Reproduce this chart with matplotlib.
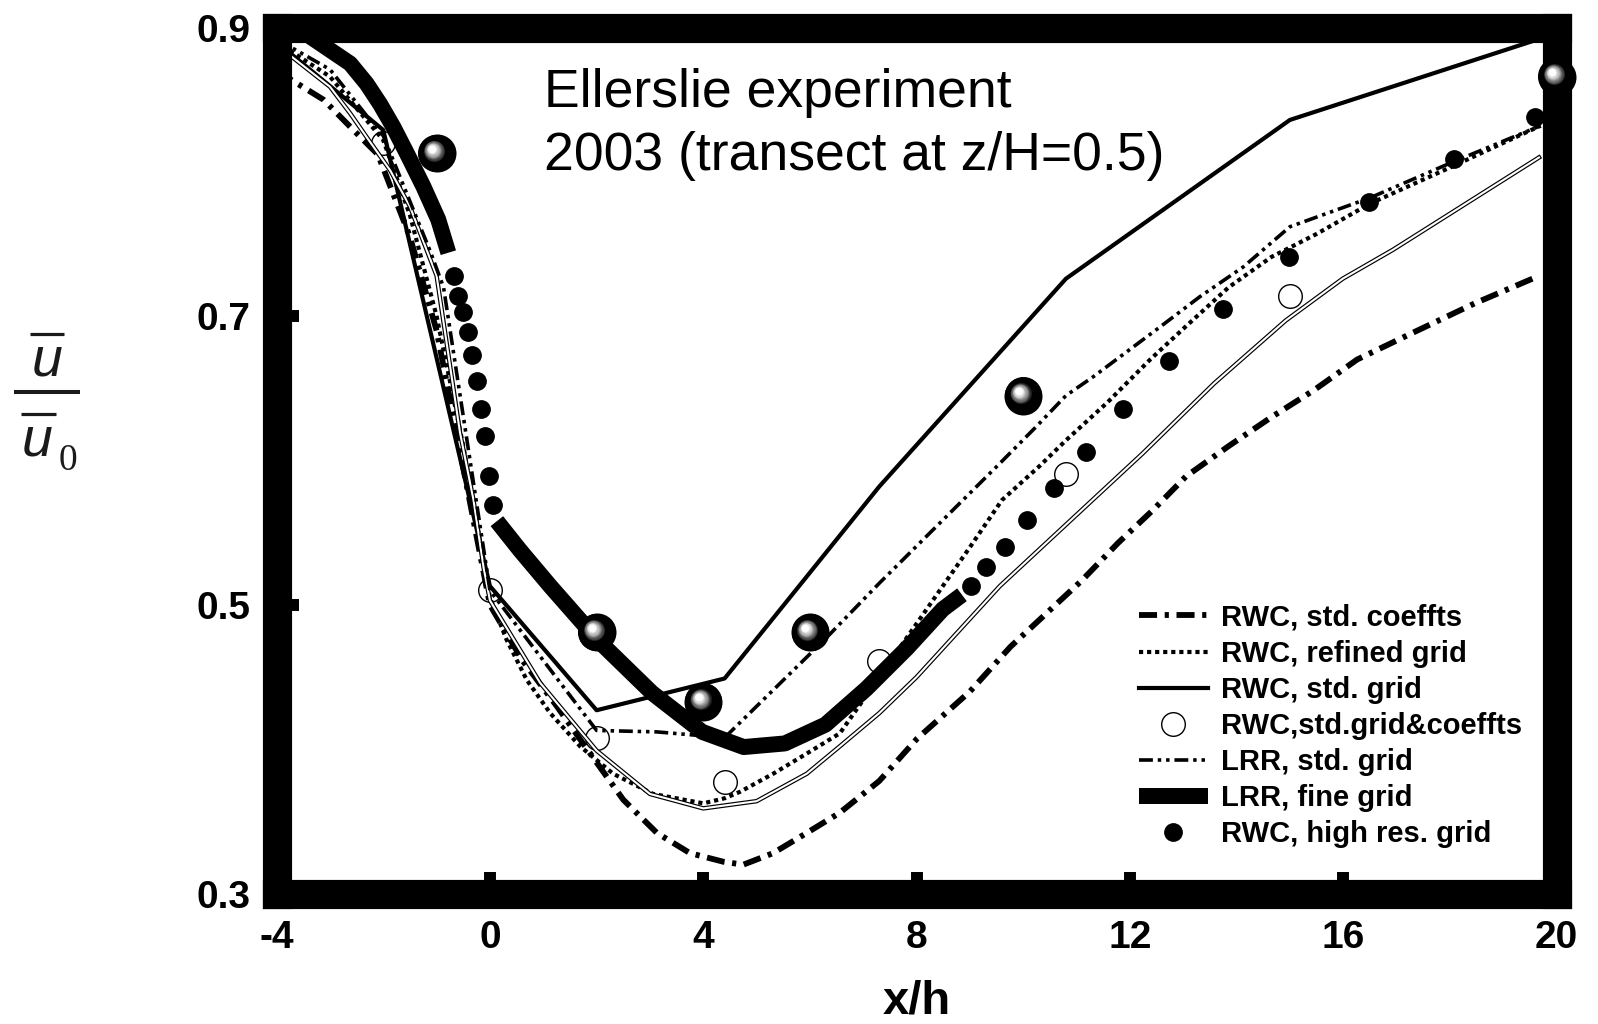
import matplotlib
matplotlib.use('Agg')
import matplotlib.pyplot as plt
import numpy as np
from matplotlib.lines import Line2D
from matplotlib.transforms import offset_copy

# ---- data ----
# RWC, std. coeffts (thick dash-dot)
std_coeffts_x = [-4.0, -3.12, -2.56, -2.1, -1.5, -1.0, -0.5, 0.0, 0.6, 1.25, 1.88, 2.5,
                 3.13, 3.75, 4.38, 4.75, 5.31, 5.94, 6.56, 7.3, 8.0, 9.0, 9.76, 10.43,
                 11.1, 11.78, 12.44, 13.05, 13.85, 14.65, 15.46, 16.26, 17.33, 18.47, 19.61]
std_coeffts_y = [0.870, 0.850, 0.829, 0.812, 0.755, 0.690, 0.595, 0.500, 0.462, 0.430, 0.397, 0.365,
                 0.342, 0.328, 0.322, 0.320, 0.328, 0.342, 0.356, 0.378, 0.407, 0.440, 0.471, 0.494,
                 0.517, 0.543, 0.566, 0.589, 0.610, 0.630, 0.649, 0.670, 0.689, 0.709, 0.727]

# RWC, refined grid (dotted)
refined_x = [-4.0, -3.0, -2.0, -1.5, -1.0, -0.5, 0.0, 0.31, 0.69, 1.13, 1.69, 2.31, 3.06, 4.0,
             4.4, 4.69, 5.31, 5.94, 6.56, 7.3, 8.0, 9.0, 9.6, 10.3, 10.8, 11.57, 12.38, 13.05,
             13.85, 14.65, 15.5, 16.5, 18.0, 19.7]
refined_y = [0.890, 0.866, 0.822, 0.770, 0.700, 0.610, 0.505, 0.476, 0.448, 0.425, 0.402, 0.383,
             0.369, 0.3625, 0.366, 0.3705, 0.383, 0.397, 0.411, 0.450, 0.487, 0.540, 0.5726, 0.596,
             0.614, 0.640, 0.670, 0.693, 0.720, 0.741, 0.757, 0.778, 0.803, 0.832]

# RWC, std. grid (solid)
std_grid_x = [-4.0, -2.0, 0.0, 2.0, 4.4, 7.3, 10.8, 15.0, 20.0]
std_grid_y = [0.890, 0.829, 0.513, 0.427, 0.449, 0.582, 0.726, 0.836, 0.896]

# RWC, std.grid & coeffts (open circles)
circles_x = [-2.0, 0.0, 2.0, 4.4, 7.3, 10.8, 15.0]
circles_y = [0.820, 0.510, 0.408, 0.377, 0.461, 0.591, 0.714]

# unlabelled double thin line
double_x = [-4.0, -3.0, -2.62, -2.31, -1.87, -1.5, -1.0, -0.56, -0.31, -0.12, 0.0, 0.94, 2.0,
            3.0, 4.0, 5.0, 5.94, 6.56, 7.3, 8.0, 9.56, 10.9, 12.24, 13.58, 14.92, 15.99,
            16.93, 19.67]
double_y = [0.888, 0.859, 0.8405, 0.824, 0.801, 0.776, 0.728, 0.619, 0.573, 0.526, 0.503, 0.446,
            0.399, 0.369, 0.359, 0.364, 0.383, 0.402, 0.425, 0.450, 0.513, 0.559, 0.605, 0.6535,
            0.697, 0.726, 0.746, 0.810]

# LRR, std. grid (dash-dot-dot)
lrr_std_x = [-4.0, -3.0, -2.25, -2.0, -1.56, -1.12, -0.87, 0.0, 2.0, 3.13, 4.4, 6.25, 7.3,
             9.56, 10.23, 10.8, 11.31, 12.58, 13.31, 14.12, 15.0, 16.5, 18.0, 19.7]
lrr_std_y = [0.892, 0.871, 0.836, 0.825, 0.785, 0.745, 0.720, 0.510, 0.413, 0.412, 0.408, 0.475,
             0.515, 0.598, 0.623, 0.645, 0.658, 0.693, 0.7135, 0.734, 0.762, 0.782, 0.806, 0.832]

# LRR, fine grid (very thick line, broken where the dots separate)
lrr_fine_x = [-3.7, -3.06, -2.62, -2.31, -2.06, -1.81, -1.56, -1.25, -0.97, -0.78, np.nan,
              0.13, 0.56, 1.13, 2.01, 3.04, 3.98, 4.76, 5.53, 6.29, 7.06, 7.82, 8.49, 8.85]
lrr_fine_y = [0.902, 0.886, 0.875, 0.861, 0.847, 0.831, 0.813, 0.790, 0.767, 0.744, np.nan,
              0.558, 0.538, 0.513, 0.476, 0.439, 0.412, 0.4015, 0.404, 0.417, 0.442, 0.470,
              0.497, 0.507]

# RWC, high res. grid (filled dots)
hires_x = [-0.68, -0.59, -0.50, -0.41, -0.34, -0.25, -0.17, -0.09, -0.01, 0.06,
           9.02, 9.31, 9.666, 10.07, 10.57, 11.17, 11.87, 12.73, 13.75, 14.98, 16.48, 18.07, 19.6]
hires_y = [0.728, 0.714, 0.703, 0.689, 0.673, 0.655, 0.636, 0.617, 0.589, 0.569,
           0.513, 0.526, 0.540, 0.559, 0.581, 0.606, 0.6355, 0.669, 0.705, 0.741, 0.779, 0.809, 0.838]

# Ellerslie experiment (shaded spheres)
exp_x = [-1.0, 2.0, 4.0, 6.0, 10.0, 20.0]
exp_y = [0.813, 0.481, 0.433, 0.481, 0.645, 0.866]

x_ticks = [-4, 0, 4, 8, 12, 16, 20]
y_ticks = [0.3, 0.5, 0.7, 0.9]
y_tick_labels = ['0.3', '0.5', '0.7', '0.9']

plt.rcParams['font.family'] = ['Liberation Sans', 'DejaVu Sans']
plt.rcParams['lines.scale_dashes'] = False

W, H = 1598, 1024


def draw_spheres(ax, xs, ys, diameter=38, layers=36):
    """Fake shaded balls by stacking circles that lighten towards a highlight."""
    fig = ax.figure
    big = diameter / 2
    for i in range(layers):
        t = i / (layers - 1)
        r = big * (1 - t) + 1.2 * t
        g = np.clip((t - 0.45) / 0.42, 0, 1) ** 0.8
        tr = offset_copy(ax.transData, fig=fig, x=-5.5 * t, y=5 * t, units='dots')
        ax.scatter(xs, ys, s=(2 * r * 72 / fig.dpi) ** 2, color=str(g), linewidths=0,
                   transform=tr, zorder=5 + i * 0.01, clip_on=False)


def fig_line(fig, x0, x1, y, lw):
    """Horizontal bar in pixel coordinates (used for the fraction label)."""
    fig.add_artist(Line2D([x0 / W, x1 / W], [1 - y / H, 1 - y / H],
                          transform=fig.transFigure, color='#1a1a1a', lw=lw,
                          solid_capstyle='butt'))


fig = plt.figure(figsize=(W / 100, H / 100), dpi=100)
ax = fig.add_axes([0.1731, 0.1274, 0.8010, 0.8457])

ax.plot(std_coeffts_x, std_coeffts_y, color='black', lw=4.2,
        dashes=[13, 5.5, 3, 5.5], label='RWC, std. coeffts')
ax.plot(refined_x, refined_y, color='black', lw=3, dashes=[3, 2.8],
        label='RWC, refined grid')
ax.plot(std_grid_x, std_grid_y, color='black', lw=3, label='RWC, std. grid')
ax.plot(circles_x, circles_y, ls='none', marker='o', ms=17, mfc='none', mec='black',
        mew=1, label='RWC,std.grid&coeffts')
ax.plot(double_x, double_y, color='black', lw=3.2)
ax.plot(double_x, double_y, color='white', lw=1.5)
ax.plot(lrr_std_x, lrr_std_y, color='black', lw=2.6,
        dashes=[10, 3.5, 2.5, 3.5, 2.5, 3.5], label='LRR, std. grid')
ax.plot(lrr_fine_x, lrr_fine_y, color='black', lw=11.5, solid_capstyle='butt',
        label='LRR, fine grid')
ax.plot(hires_x, hires_y, ls='none', marker='o', ms=12.5, color='black',
        label='RWC, high res. grid')

draw_spheres(ax, exp_x, exp_y)

ax.set_xlim(-4, 20)
ax.set_ylim(0.3, 0.9)
ax.set_xticks(x_ticks)
ax.set_xticklabels([str(v) for v in x_ticks])
ax.set_yticks(y_ticks)
ax.set_yticklabels(y_tick_labels)
for lab in ax.get_xticklabels() + ax.get_yticklabels():
    lab.set_fontweight('bold')
    lab.set_fontsize(28)
ax.tick_params(axis='x', direction='in', length=15.5, width=8.6, pad=19, top=False)
ax.tick_params(axis='y', direction='in', length=15.5, width=8.6, pad=19, right=False)
for sp in ax.spines.values():
    sp.set_linewidth(21)

# annotation inside the frame (baseline of the second line)
ax.text(1.014, 0.8013, 'Ellerslie experiment\n2003 (transect at z/H=0.5)',
        fontsize=38.5, ha='left', va='baseline', linespacing=1.34, zorder=10)

fig.text(916.5 / W, 1 - 1014 / H, 'x/h', fontsize=34, fontweight='bold',
         ha='center', va='baseline')

# y label drawn as a fraction  u-bar / u-bar_0
fig.text(47 / W, 1 - 375 / H, 'u', fontsize=40, style='italic', color='#1a1a1a',
         ha='center', va='baseline')
fig_line(fig, 30, 64, 334, 2.3)
fig_line(fig, 14, 80, 391.7, 2.9)
fig.text(37 / W, 1 - 455 / H, 'u', fontsize=40, style='italic', color='#1a1a1a',
         ha='center', va='baseline')
fig_line(fig, 21, 56, 414, 2.3)
fig.text(67.5 / W, 1 - 470 / H, '0', fontsize=27, family='Liberation Serif',
         color='#1a1a1a', ha='center', va='baseline')

ax.legend(loc='upper left', bbox_to_anchor=(1139 / W, 1 - 603.7 / H),
          bbox_transform=fig.transFigure, frameon=False, borderpad=0, borderaxespad=0,
          handlelength=2.35, handletextpad=0.45, labelspacing=0.275, numpoints=1,
          prop={'weight': 'bold', 'size': 21})

fig.savefig('out.png', dpi=100)
